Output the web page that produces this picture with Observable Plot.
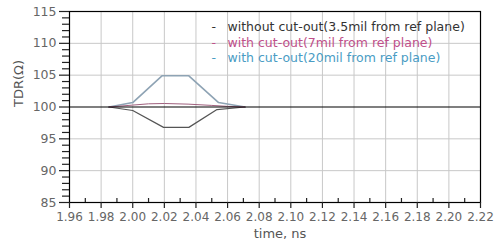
<!DOCTYPE html>
<html>
<head>
<meta charset="utf-8">
<script src="https://cdn.jsdelivr.net/npm/d3@7"></script>
<script src="https://cdn.jsdelivr.net/npm/@observablehq/plot@0.6"></script>
<style>
  html, body { margin: 0; padding: 0; background: #fff; }
  svg { display: block; }
</style>
</head>
<body>
<div id="chart"></div>
<script>
// Tick values
const xTicks = [1.96, 1.98, 2.00, 2.02, 2.04, 2.06, 2.08, 2.10, 2.12, 2.14, 2.16, 2.18, 2.20, 2.22];
const xMinor = [1.97, 1.99, 2.01, 2.03, 2.05, 2.07, 2.09, 2.11, 2.13, 2.15, 2.17, 2.19, 2.21];
const yTicks = [85, 90, 95, 100, 105, 110, 115];
const yMinor = [86, 87, 88, 89, 91, 92, 93, 94, 96, 97, 98, 99, 101, 102, 103, 104, 106, 107, 108, 109, 111, 112, 113, 114];
const yGrid = [90, 95, 105, 110];
const refLevel = [100];

// Series (time in ns, impedance in ohm)
const t20 = [1.985, 2.000, 2.0185, 2.0355, 2.0543, 2.071];
const v20 = [100.0, 100.7, 104.9, 104.9, 100.7, 100.0];
const t35 = [1.985, 2.000, 2.0195, 2.0355, 2.0533, 2.071];
const v35 = [100.0, 99.45, 96.8, 96.8, 99.6, 100.0];
const t7 = [1.985, 2.000, 2.010, 2.020, 2.035, 2.050, 2.060, 2.071];
const v7 = [100.0, 100.3, 100.5, 100.55, 100.45, 100.25, 100.1, 100.0];

const legendLabels = [
  "without cut-out(3.5mil from ref plane)",
  "with cut-out(7mil from ref plane)",
  "with cut-out(20mil from ref plane)"
];
const legendColors = ["#333333", "#c0508a", "#4a9cc4"];

const toRows = (ts, vs) => ts.map((t, i) => ({t, v: vs[i]}));
const blank = () => "";

const font = "DejaVu Sans, sans-serif";

const chart = Plot.plot({
  width: 500,
  height: 248,
  marginLeft: 69,
  marginRight: 20,
  marginTop: 11,
  marginBottom: 46,
  style: {fontFamily: font, fontSize: "12px", background: "#fff"},
  x: {domain: [1.96, 2.22]},
  y: {domain: [85, 115]},
  marks: [
    Plot.ruleX(xTicks, {stroke: "#c8c8c8", strokeWidth: 1}),
    Plot.ruleY(yGrid, {stroke: "#c8c8c8", strokeWidth: 1}),
    Plot.line(toRows(t20, v20), {x: "t", y: "v", stroke: "#8ea3b4", strokeWidth: 1.6}),
    Plot.line(toRows(t35, v35), {x: "t", y: "v", stroke: "#555555", strokeWidth: 1.2}),
    Plot.line(toRows(t7, v7), {x: "t", y: "v", stroke: "#a0607e", strokeWidth: 1}),
    Plot.ruleY(refLevel, {stroke: "#000", strokeWidth: 1.2}),
    Plot.frame({stroke: "#000", strokeWidth: 1.2}),
    Plot.axisY({ticks: yMinor, tickSize: 7, tickFormat: blank, stroke: "#222", strokeWidth: 1.2, label: null}),
    Plot.axisY({ticks: yTicks, tickSize: 10, tickPadding: 3, tickFormat: d => d, fill: "#666", stroke: "#222", strokeWidth: 1.2, label: null, fontSize: 12.5}),
    Plot.axisX({ticks: xMinor, tickSize: -4, tickFormat: blank, stroke: "#222", strokeWidth: 1.2, label: null}),
    Plot.axisX({ticks: xTicks, tickSize: 6, tickPadding: 4, tickFormat: d3.format(".2f"), fill: "#666", stroke: "#222", strokeWidth: 1.2, label: null, fontSize: 12}),
    Plot.text(["TDR(Ω)"], {frameAnchor: "left", rotate: -90, dx: -51, fill: "#555", fontSize: 13}),
    Plot.text(["time, ns"], {frameAnchor: "bottom", dy: 35, dx: 5, fill: "#555", fontSize: 13}),
    ...legendLabels.map((lab, i) => Plot.text([lab], {frameAnchor: "top-left", textAnchor: "start", dx: 158, dy: 11 + i * 15.5, fill: legendColors[i], fontSize: 12.5})),
    ...legendLabels.map((lab, i) => Plot.text(["-"], {frameAnchor: "top-left", textAnchor: "start", dx: 142, dy: 11 + i * 15.5, fill: legendColors[i], fontSize: 12.5}))
  ]
});
document.getElementById("chart").appendChild(chart);
</script>
</body>
</html>
